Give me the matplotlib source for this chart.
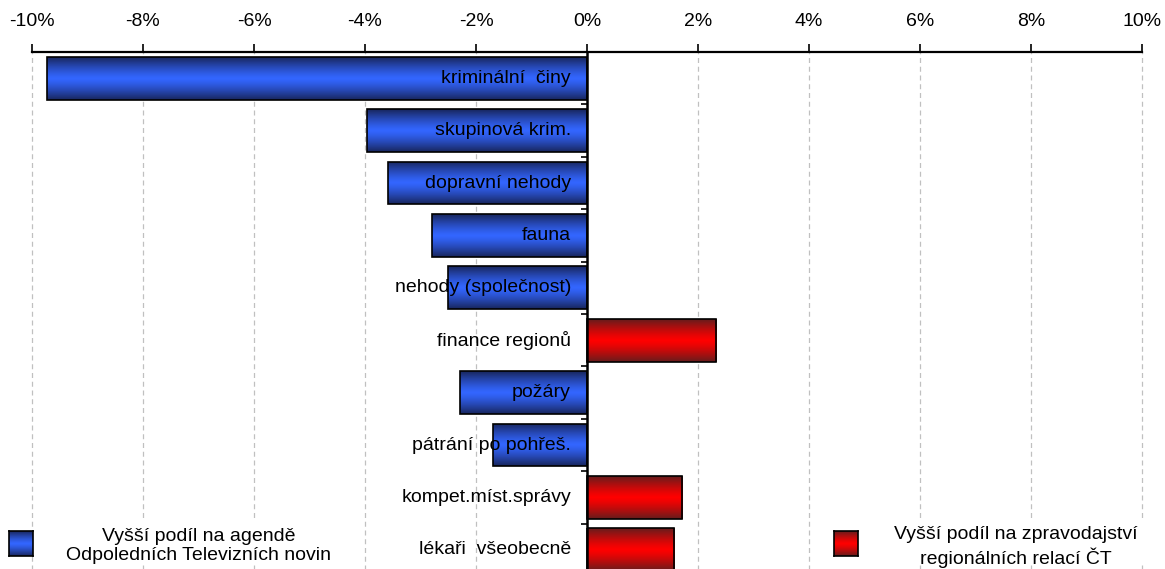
import numpy as np
import matplotlib
matplotlib.use("Agg")
import matplotlib.pyplot as plt
from matplotlib.patches import Rectangle

plt.rcParams['font.family'] = ['Liberation Sans', 'DejaVu Sans']

# ---- data ----
categories = ["kriminální  činy", "skupinová krim.", "dopravní nehody", "fauna",
              "nehody (společnost)", "finance regionů", "požáry",
              "pátrání po pohřeš.", "kompet.míst.správy", "lékaři  všeobecně"]
values = [-9.73, -3.97, -3.58, -2.79, -2.50, 2.33, -2.29, -1.70, 1.72, 1.57]
xticks = [-10, -8, -6, -4, -2, 0, 2, 4, 6, 8, 10]
xtick_labels = ["-10%", "-8%", "-6%", "-4%", "-2%", "0%", "2%", "4%", "6%", "8%", "10%"]
legend_neg = "Vyšší podíl na agendě\nOdpoledních Televizních novin"
legend_pos = "Vyšší podíl na zpravodajství\nregionálních relací ČT"

W, H = 1165, 569
fig = plt.figure(figsize=(W / 100, H / 100), dpi=100)

def fx(x):
    return x / W

def fy(y):
    return 1 - y / H

ax_left, ax_right, ax_top, ax_bot = 32, 1142, 52, 576
ax = fig.add_axes([fx(ax_left), fy(ax_bot), fx(ax_right - ax_left), (ax_bot - ax_top) / H])

blue_dark = np.array([0x18, 0x26, 0x5e]) / 255
blue_bright = np.array([0x33, 0x66, 0xff]) / 255
red_dark = np.array([0x66, 0x1c, 0x1c]) / 255
red_bright = np.array([0xff, 0x00, 0x00]) / 255

def gradient(dark, bright, n=64):
    t = np.linspace(0, 1, n)
    k = 1 - np.abs(2 * t - 1) ** 1.3
    g = dark[None, :] + (bright - dark)[None, :] * k[:, None]
    return g[:, None, :]

ypos = np.arange(len(categories))
bars = ax.barh(ypos, values, height=0.82, facecolor='none', edgecolor='black',
               linewidth=1.2, zorder=4)
for b, v in zip(bars, values):
    x0, y0 = b.get_x(), b.get_y()
    w, h = b.get_width(), b.get_height()
    g = gradient(blue_dark, blue_bright) if v < 0 else gradient(red_dark, red_bright)
    im = ax.imshow(g, extent=[x0, x0 + w, y0 + h, y0], aspect='auto',
                   interpolation='bilinear', zorder=3)
    im.set_clip_path(b)

for yi, lab in zip(ypos, categories):
    ax.text(-0.29, yi, lab, ha='right', va='center', fontsize=14, color='black', zorder=6)

ax.set_xlim(-10, 10)
ax.set_ylim(len(categories) - 0.5, -0.5)

ax.xaxis.tick_top()
ax.set_xticks(xticks)
ax.set_xticklabels(xtick_labels, fontsize=14)
ax.tick_params(axis='x', direction='out', length=6, width=1.2, pad=10, colors='black')
ax.set_yticks(np.arange(-0.5, len(categories), 1))
ax.set_yticklabels([])
ax.tick_params(axis='y', direction='out', length=4, width=1.2)

ax.spines['left'].set_position(('data', 0))
ax.spines['left'].set_linewidth(1.8)
ax.spines['left'].set_zorder(5)
ax.spines['top'].set_linewidth(1.6)
ax.spines['right'].set_visible(False)
ax.spines['bottom'].set_visible(False)

ax.grid(axis='x', color='#c0c0c0', linestyle=(0, (4, 3)), linewidth=0.9, zorder=0)
ax.grid(axis='y', visible=False)
ax.set_axisbelow(True)
for gl in ax.get_xgridlines():
    gl.set_clip_on(False)

# ---- legend blocks ----
for (bx0, bx1) in [(36, 360), (865, 1165)]:
    fig.patches.append(Rectangle((fx(bx0), fy(564)), fx(bx1 - bx0), (564 - 518) / H,
                                 transform=fig.transFigure, facecolor='white',
                                 edgecolor='none', zorder=1))

fig.text(fx(199), fy(546), legend_neg, ha='center', va='center', fontsize=14,
         linespacing=1.22, zorder=3)
fig.text(fx(1016), fy(547), legend_pos, ha='center', va='center', fontsize=14,
         linespacing=1.22, zorder=3)

for (sx, dark, bright) in [(9, blue_dark, blue_bright), (834, red_dark, red_bright)]:
    sax = fig.add_axes([fx(sx), fy(556), fx(24), 25 / H])
    sax.imshow(gradient(dark, bright), aspect='auto', interpolation='bilinear')
    sax.set_xticks([])
    sax.set_yticks([])
    for s in sax.spines.values():
        s.set_linewidth(1.2)
        s.set_color('black')

fig.savefig("out.png", dpi=100)
